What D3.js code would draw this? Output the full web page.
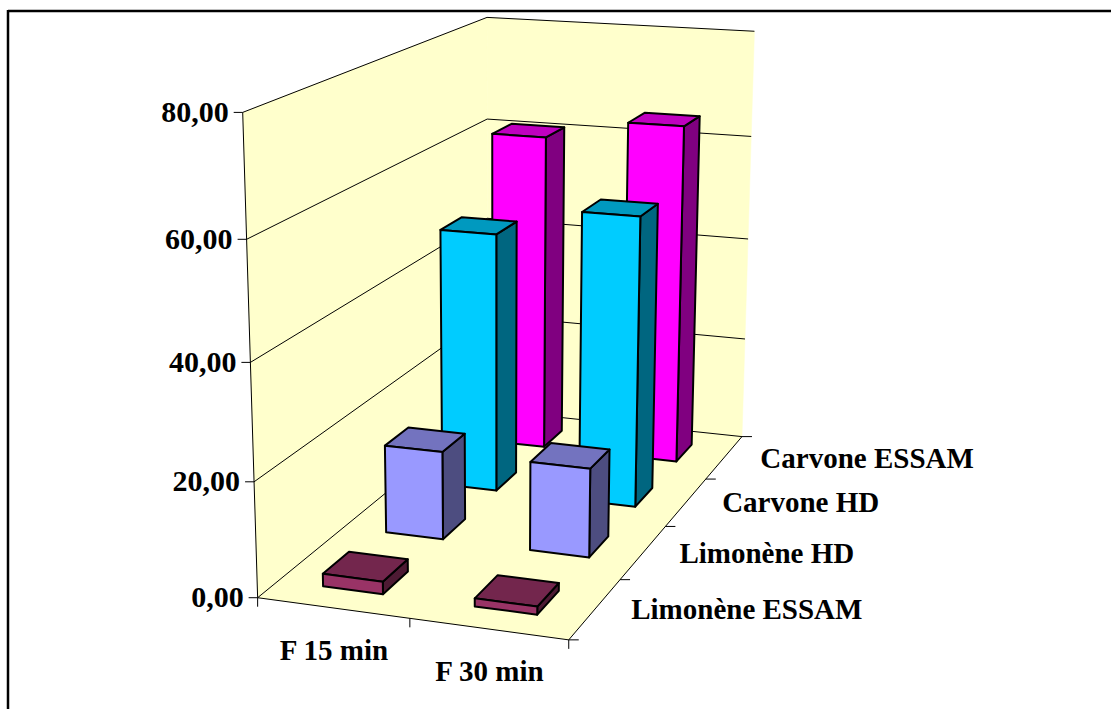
<!DOCTYPE html>
<html lang="fr">
<head>
<meta charset="UTF-8">
<title>Carvone / Limonène</title>
<script src="https://cdn.jsdelivr.net/npm/d3@7"></script>
<style>
body { margin: 0; background: #fff; }
text { font-family: "Liberation Serif", serif; font-weight: bold; font-size: 29px; fill: #000; }
text.val { font-size: 30px; }
</style>
</head>
<body>
<script>
// data
var categories = ['F 15 min', 'F 30 min'];
var series = ['Limonène ESSAM', 'Limonène HD', 'Carvone HD', 'Carvone ESSAM'];
var limoneneEssam = [2.2, 1.4];
var limoneneHd = [16, 16];
var carvoneHd = [48.4, 53.7];
var carvoneEssam = [61, 64.8];
var seriesValues = [limoneneEssam, limoneneHd, carvoneHd, carvoneEssam];
var seriesColors = ['#993366', '#9999ff', '#00ccff', '#ff00ff'];
var valueTicks = [0, 20, 40, 60, 80];
var valueLabels = ['0,00', '20,00', '40,00', '60,00', '80,00'];

var width = 1111, height = 709;

// box corners (0/1 in cat, depth, value) -> where they land on screen
var calib = [
  [0, 0, 0, 259, 597], [1, 0, 0, 568, 641], [1, 1, 0, 743, 435], [0, 1, 0, 486, 411],
  [0, 0, 1, 242, 112], [0, 1, 1, 488, 17], [1, 1, 1, 754, 32]
];

// least squares for the 11 unknowns of a perspective camera
function solveCamera(pts) {
  var n = 11, rows = [];
  pts.forEach(function (p) {
    var x = p[0], y = p[1], z = p[2], u = p[3], v = p[4];
    rows.push([x, y, z, 1, 0, 0, 0, 0, -u * x, -u * y, -u * z, u]);
    rows.push([0, 0, 0, 0, x, y, z, 1, -v * x, -v * y, -v * z, v]);
  });
  var m = d3.range(n).map(function (i) {
    return d3.range(n + 1).map(function (j) {
      return d3.sum(rows, function (r) { return r[i] * r[j]; });
    });
  });
  for (var i = 0; i < n; i++) {
    var best = i;
    for (var k = i + 1; k < n; k++) if (Math.abs(m[k][i]) > Math.abs(m[best][i])) best = k;
    var t = m[i]; m[i] = m[best]; m[best] = t;
    for (k = 0; k < n; k++) {
      if (k === i) continue;
      var f = m[k][i] / m[i][i];
      for (var j = i; j <= n; j++) m[k][j] -= f * m[i][j];
    }
  }
  return m.map(function (r, i) { return r[n] / r[i]; });
}
var cam = solveCamera(calib);
function project(x, y, z) {
  var w = cam[8] * x + cam[9] * y + cam[10] * z + 1;
  return [(cam[0] * x + cam[1] * y + cam[2] * z + cam[3]) / w,
          (cam[4] * x + cam[5] * y + cam[6] * z + cam[7]) / w];
}

// gap width and gap depth 150%
var xBand = d3.scaleBand().domain(categories).range([0, 1]).paddingInner(0.6).paddingOuter(0.3);
var yBand = d3.scaleBand().domain(series).range([0, 1]).paddingInner(0.6).paddingOuter(0.3);
var zScale = d3.scaleLinear().domain([0, 80]).range([0, 1]);

var svg = d3.select('body').append('svg').attr('width', width).attr('height', height);
var poly = d3.line().curve(d3.curveLinearClosed);
var seg = d3.line();

function face(g, pts, fill) {
  g.append('path').attr('d', poly(pts)).attr('fill', fill)
    .attr('stroke', '#000').attr('stroke-width', 2).attr('stroke-linejoin', 'round');
}
function rule(a, b, w) {
  svg.append('path').attr('d', seg([a, b])).attr('fill', 'none')
    .attr('stroke', '#000').attr('stroke-width', w || 1);
}

// frame, only top and left show
rule([8, 11], [width, 11], 2.5);
rule([8, 10], [8, height], 2.5);

// walls and floor
var wallFill = '#ffffcc';
[[[0, 0, 0], [0, 1, 0], [0, 1, 1], [0, 0, 1]],
 [[0, 1, 0], [1, 1, 0], [1, 1, 1], [0, 1, 1]],
 [[0, 0, 0], [1, 0, 0], [1, 1, 0], [0, 1, 0]]].forEach(function (q) {
  svg.append('path').attr('d', poly(q.map(function (c) { return project(c[0], c[1], c[2]); })))
    .attr('fill', wallFill).attr('stroke', wallFill).attr('stroke-width', 0.5);
});

// gridlines round the two walls
valueTicks.forEach(function (v) {
  var z = zScale(v);
  rule(project(0, 0, z), project(0, 1, z));
  rule(project(0, 1, z), project(1, 1, z));
});
rule(project(0, 0, 0), project(0, 0, 1));
rule(project(0, 0, 0), project(1, 0, 0));
rule(project(1, 0, 0), project(1, 1, 0));

// bars, back row first
d3.range(series.length - 1, -1, -1).forEach(function (si) {
  var y0 = yBand(series[si]), y1 = y0 + yBand.bandwidth();
  var c = d3.rgb(seriesColors[si]);
  var g = svg.append('g');
  categories.forEach(function (cat, ci) {
    var x0 = xBand(cat), x1 = x0 + xBand.bandwidth();
    var z = zScale(seriesValues[si][ci]);
    face(g, [project(x1, y0, 0), project(x1, y1, 0), project(x1, y1, z), project(x1, y0, z)],
      d3.rgb(c.r * 0.5, c.g * 0.5, c.b * 0.5));
    face(g, [project(x0, y0, z), project(x1, y0, z), project(x1, y1, z), project(x0, y1, z)],
      d3.rgb(c.r * 0.75, c.g * 0.75, c.b * 0.75));
    face(g, [project(x0, y0, 0), project(x1, y0, 0), project(x1, y0, z), project(x0, y0, z)], c);
  });
});

// value axis
valueTicks.forEach(function (v, i) {
  var p = project(0, 0, zScale(v));
  rule([p[0] - 9, p[1]], p);
  svg.append('text').attr('class', 'val').attr('x', p[0] - 14).attr('y', p[1]).attr('dy', '0.32em')
    .attr('text-anchor', 'end').text(valueLabels[i]);
});

// category axis
var xStep = d3.scaleLinear().domain([0, categories.length]).range([0, 1]);
d3.range(categories.length + 1).forEach(function (i) {
  var p = project(xStep(i), 0, 0);
  rule(p, [p[0], p[1] + 9]);
});
categories.forEach(function (cat, i) {
  var p = project(xStep(i + 0.5), 0, 0);
  svg.append('text').attr('x', p[0] + 1).attr('y', p[1] + 43).attr('dy', '0.32em')
    .attr('text-anchor', 'middle').text(cat);
});

// depth axis
var yStep = d3.scaleLinear().domain([0, series.length]).range([0, 1]);
d3.range(series.length + 1).forEach(function (i) {
  var p = project(1, yStep(i), 0);
  rule(p, [p[0] + 10, p[1]]);
});
series.forEach(function (s, i) {
  var p = project(1, yStep(i + 0.5), 0);
  svg.append('text').attr('x', p[0] + 36).attr('y', p[1] + 1).attr('dy', '0.32em').text(s);
});
</script>
</body>
</html>
